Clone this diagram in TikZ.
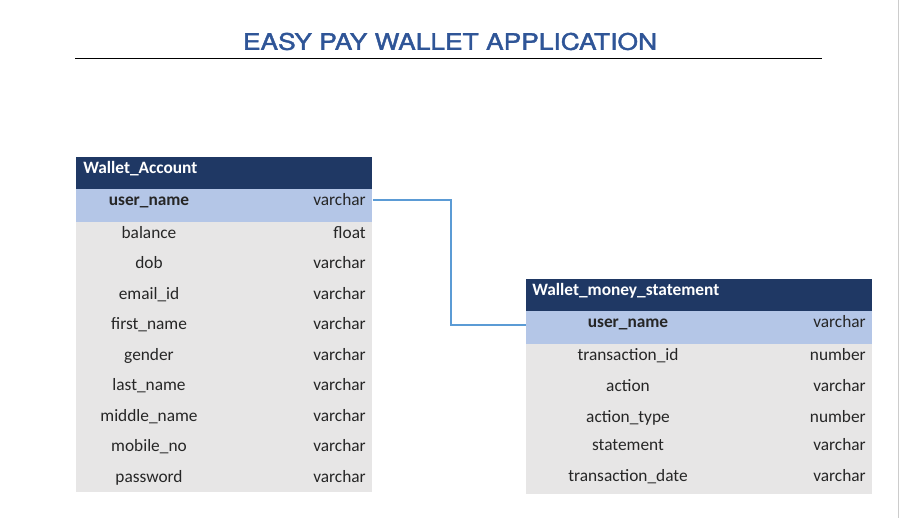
\documentclass[tikz,border=0pt]{standalone}
\usepackage{fontspec}
\setmainfont{Carlito}
\newfontfamily\titlefont[FakeBold=1.6]{TeX Gyre Heros}
\usetikzlibrary{calc}
\definecolor{headnavy}{HTML}{1F3864}
\definecolor{keyblue}{HTML}{B4C6E7}
\definecolor{rowgray}{HTML}{E7E6E6}
\definecolor{titleblue}{HTML}{2F5597}
\definecolor{linkblue}{HTML}{5B9BD5}
\tikzset{every picture/.style={x=0.75pt,y=-0.75pt}}
\tikzset{
  headtext/.style={anchor=base west,inner sep=0pt,text=white,font=\fontsize{13}{15}\selectfont\bfseries},
  fieldname/.style={anchor=base,inner sep=0pt,text=black!85,font=\fontsize{13}{15}\selectfont},
  keyname/.style={fieldname,font=\fontsize{13}{15}\selectfont\bfseries},
  fieldtype/.style={anchor=base east,inner sep=0pt,text=black!85,font=\fontsize{13}{15}\selectfont},
  keyrow/.style={anchor=north west,fill=keyblue,inner sep=0pt},
  link/.style={draw=linkblue,line width=1.5pt}
}

\begin{document}
\begin{tikzpicture}
    \useasboundingbox (0,0) rectangle (899,518);
    % title
    \node[inner sep=0pt,text=titleblue] (title) at (450,41.5)
      {\resizebox{310.5pt}{12.75pt}{\titlefont EASY PAY WALLET APPLICATION}};
    \draw[line width=0.75pt] (75,58) -- (822,58);
    \draw[gray!40,line width=0.75pt] (898,0) -- (898,518);

    % Wallet_Account table
    \fill[headnavy] (76,157) rectangle (372,189);
    \fill[rowgray] (76,222) rectangle (372,492);
    \node[keyrow,minimum width=222pt,minimum height=24.75pt] (akey) at (76,189) {};
    \node[headtext] (ahead) at (83,173) {Wallet\_Account};
    \node[keyname] (aname) at (149,205) {user\_name};
    \node[fieldtype] (atype) at (366,205) {varchar};
    \foreach \name/\type [count=\i from 0] in {balance/float, dob/varchar,
        email\_id/varchar, first\_name/varchar, gender/varchar, last\_name/varchar,
        middle\_name/varchar, mobile\_no/varchar, password/varchar} {
      \node[fieldname] (af\i) at (149,238+30.5*\i) {\name};
      \node[fieldtype] (at\i) at (366,238+30.5*\i) {\type};
    }

    % Wallet_money_statement table
    \fill[headnavy] (526,279) rectangle (872,311);
    \fill[rowgray] (526,343.5) rectangle (872,493.5);
    \node[keyrow,minimum width=259.5pt,minimum height=24.4pt] (bkey) at (526,311) {};
    \node[headtext] (bhead) at (532,295) {Wallet\_money\_statement};
    \node[keyname] (bname) at (628,327) {user\_name};
    \node[fieldtype] (btype) at (866,327) {varchar};
    \foreach \name/\type/\y [count=\i] in {transaction\_id/number/360.5,
        action/varchar/391.5, action\_type/number/422.5, statement/varchar/450.5,
        transaction\_date/varchar/481.5} {
      \node[fieldname] (bf\i) at (628,\y) {\name};
      \node[fieldtype] (bt\i) at (866,\y) {\type};
    }

    % user_name link
    \draw[link] ([yshift=4.1pt]akey.east) -- ++(78,0) |- ([yshift=2.25pt]bkey.west);
\end{tikzpicture}
\end{document}
